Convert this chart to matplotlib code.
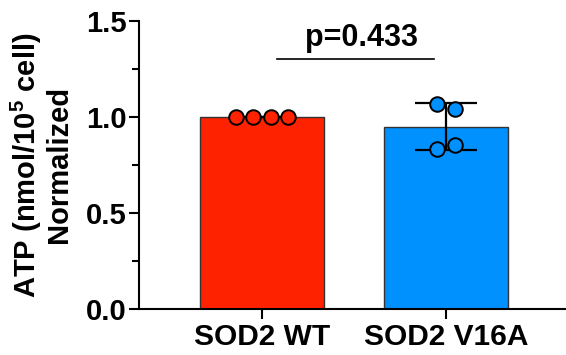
import matplotlib
matplotlib.use("Agg")
import matplotlib.pyplot as plt
import numpy as np
from matplotlib.ticker import MultipleLocator

plt.rcParams['font.family'] = ['Liberation Sans', 'DejaVu Sans']
plt.rcParams['font.weight'] = 'bold'
plt.rcParams['mathtext.fontset'] = 'custom'
plt.rcParams['mathtext.rm'] = 'Liberation Sans:bold'
plt.rcParams['mathtext.bf'] = 'Liberation Sans:bold'

categories = ["SOD2 WT", "SOD2 V16A"]
wt_values = [1.0, 1.0, 1.0, 1.0]
v16a_values = [1.068, 1.038, 0.832, 0.853]
bar_colors = ["#FF2200", "#0091FF"]
p_label = "p=0.433"

groups = [wt_values, v16a_values]
means = [np.mean(g) for g in groups]
sds = [np.std(g, ddof=1) for g in groups]

fig = plt.figure(figsize=(5.66, 3.55), dpi=100)
ax = fig.add_axes([0.2456, 0.1296, 0.7544, 0.8121])

x = np.arange(len(categories))
ax.bar(x, means, width=0.67, color=bar_colors, edgecolor="#333333", linewidth=1.0, zorder=1)
ax.errorbar(x, means, yerr=sds, fmt='none', ecolor='black', elinewidth=1.6,
            capsize=22, capthick=1.6, zorder=2)

# swarm-like placement
spacing = 0.093
for i, (g, c) in enumerate(zip(groups, bar_colors)):
    g = np.asarray(g)
    if np.ptp(g) == 0:
        offs = (np.arange(len(g)) - (len(g) - 1) / 2) * spacing
    else:
        offs = np.array([(-0.5 if k % 2 == 0 else 0.5) * spacing for k in range(len(g))])
    ax.scatter(x[i] + offs, g, s=110, color=c, edgecolor='black', linewidth=1.4, zorder=3)

ax.set_xlim(-0.668, 1.652)
ax.set_ylim(0, 1.5)
ax.yaxis.set_minor_locator(MultipleLocator(0.25))
ax.set_yticks([0, 0.5, 1.0, 1.5])
ax.set_yticklabels(["0.0", "0.5", "1.0", "1.5"])
ax.set_xticks(x)
ax.set_xticklabels(categories)

for s in ['top', 'right']:
    ax.spines[s].set_visible(False)
for s in ['left', 'bottom']:
    ax.spines[s].set_linewidth(1.5)

ax.tick_params(axis='y', which='major', length=7, width=1.5, labelsize=21, pad=2)
ax.tick_params(axis='y', which='minor', length=5, width=1.5)
ax.tick_params(axis='x', which='major', length=7, width=1.5, labelsize=21.5, pad=3)
for lab in ax.get_xticklabels() + ax.get_yticklabels():
    lab.set_fontweight('bold')

ax.set_ylabel("ATP (nmol/10$^{5}$ cell)\nNormalized", fontsize=21, fontweight='bold',
              linespacing=1.05, labelpad=9)

# significance annotation
ax.plot([0.082, 0.935], [1.30, 1.30], color='black', lw=1.2, clip_on=False)
ax.text(0.54, 1.37, p_label, ha='center', va='baseline', fontsize=22, fontweight='bold')

fig.savefig("out.png", dpi=100)
